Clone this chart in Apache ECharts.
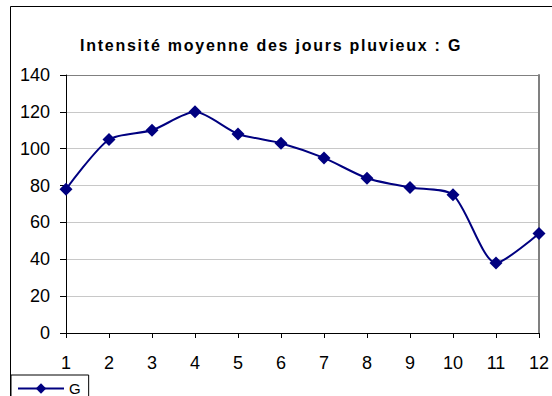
<!DOCTYPE html>
<html>
<head>
<meta charset="utf-8">
<style>
  html, body { margin: 0; padding: 0; background: #ffffff; }
  #chart { width: 552px; height: 396px; }
  /* the bold title is set with wide tracking */
  #chart svg text[font-weight="bold"],
  #chart svg text[style*="bold"] { letter-spacing: 1.75px; }
</style>
<script src="https://cdn.jsdelivr.net/npm/echarts@6/dist/echarts.min.js"></script>
</head>
<body>
<div id="chart"></div>
<script>
// Mois (1 à 12) et intensité moyenne des jours pluvieux
const months = ['1', '2', '3', '4', '5', '6', '7', '8', '9', '10', '11', '12'];
const seriesName = 'G';
const intensity = [78, 105, 110, 120, 108, 103, 95, 84, 79, 75, 38, 54];
const titleText = 'Intensité moyenne des jours pluvieux : G';

const NAVY = '#000080';
const chart = echarts.init(document.getElementById('chart'), null, { renderer: 'svg' });

chart.setOption({
  animation: false,
  backgroundColor: '#ffffff',
  textStyle: { fontFamily: 'Liberation Sans, Arial, sans-serif' },
  title: {
    text: titleText,
    left: 80,
    top: 37,
    padding: 0,
    textStyle: { fontSize: 16, fontWeight: 'bold', color: '#000000' }
  },
  graphic: [
    {
      type: 'rect',
      z: -10,
      shape: { x: 10.5, y: 6.5, width: 560, height: 420 },
      style: { fill: 'none', stroke: '#000000', lineWidth: 1 }
    }
  ],
  legend: {
    left: 11,
    top: 375,
    orient: 'horizontal',
    padding: [6, 8, 6, 6],
    itemWidth: 46,
    itemHeight: 13,
    borderColor: '#000000',
    borderWidth: 1,
    textStyle: { fontSize: 15, color: '#000000' },
    data: [seriesName]
  },
  grid: { left: 66, right: 12, top: 75, bottom: 63, containLabel: false },
  xAxis: {
    type: 'category',
    data: months,
    boundaryGap: false,
    axisLine: { lineStyle: { color: '#000000', width: 1 } },
    axisTick: { alignWithLabel: true, length: 5, lineStyle: { color: '#000000' } },
    axisLabel: { fontSize: 18, color: '#000000', margin: 21 },
    splitLine: { show: false }
  },
  yAxis: [
    {
      type: 'value',
      min: 0,
      max: 140,
      interval: 20,
      axisLine: { show: true, lineStyle: { color: '#000000', width: 1 } },
      axisTick: { show: true, length: 6, lineStyle: { color: '#000000' } },
      axisLabel: { fontSize: 18, color: '#000000', margin: 16 },
      splitLine: {
        show: true,
        lineStyle: {
          color: ['#c8c8c8', '#c8c8c8', '#c8c8c8', '#c8c8c8', '#c8c8c8', '#c8c8c8', '#c8c8c8', '#808080'],
          width: 1
        }
      }
    },
    {
      type: 'value',
      position: 'right',
      min: 0,
      max: 140,
      interval: 20,
      axisLine: { show: true, lineStyle: { color: '#808080', width: 2 } },
      axisTick: { show: false },
      axisLabel: { show: false },
      splitLine: { show: false }
    }
  ],
  series: [
    {
      name: seriesName,
      type: 'line',
      data: intensity,
      smooth: 0.25,
      yAxisIndex: 0,
      symbol: 'diamond',
      symbolSize: 13,
      lineStyle: { color: NAVY, width: 2 },
      itemStyle: { color: NAVY }
    }
  ]
});
</script>
</body>
</html>
